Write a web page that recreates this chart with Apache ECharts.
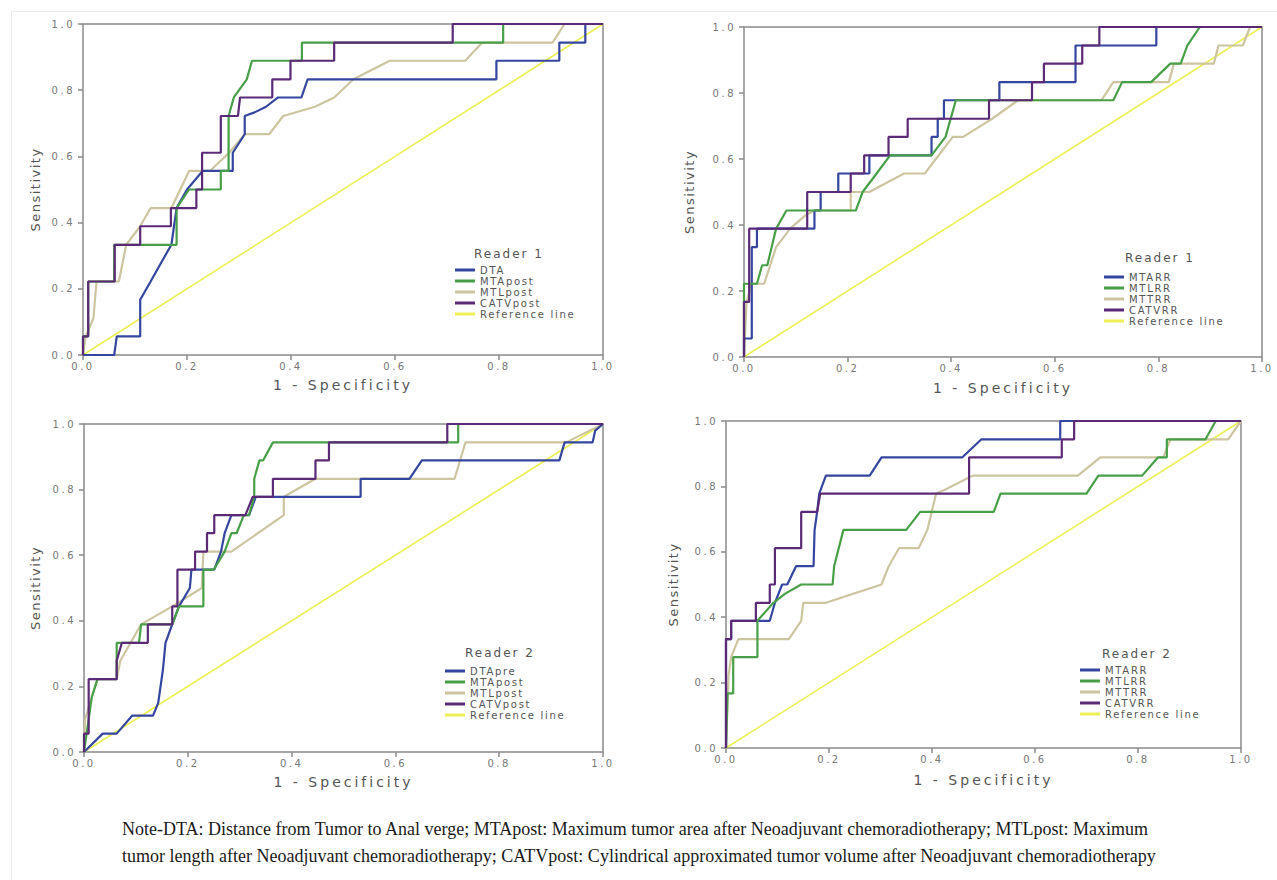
<!DOCTYPE html>
<html>
<head>
<meta charset="utf-8">
<script src="https://cdn.jsdelivr.net/npm/echarts@6/dist/echarts.min.js"></script>
<style>
html,body{margin:0;padding:0;background:#fff;}
#chart{width:1277px;height:880px;}
#chart text[style*="lsTick"]{letter-spacing:2.5px;}
#chart text[style*="lsName"]{letter-spacing:3px;}
#chart text[style*="lsSens"]{letter-spacing:1.5px;}
#chart text[style*="lsLeg"]{letter-spacing:1.7px;}
#chart text[style*="lsTitle"]{letter-spacing:2px;}
</style>
</head>
<body>
<div id="chart"></div>
<script>
// ---------- data (x = 1 - specificity, y = sensitivity) ----------
const tickValues = [0, 0.2, 0.4, 0.6, 0.8, 1.0];
const refLine = [[0,0],[1,1]];

// Reader 1, pre/post measures (top-left)
const r1_DTA = [[0,0],[0.06,0],[0.065,0.056],[0.11,0.056],[0.11,0.167],[0.13,0.222],[0.15,0.278],[0.17,0.333],[0.175,0.389],[0.18,0.444],[0.2,0.5],[0.23,0.556],[0.288,0.556],[0.288,0.611],[0.311,0.667],[0.311,0.722],[0.33,0.733],[0.352,0.75],[0.375,0.778],[0.42,0.778],[0.432,0.833],[0.795,0.833],[0.795,0.889],[0.916,0.889],[0.916,0.944],[0.966,0.944],[0.966,1],[1,1]];
const r1_MTApost = [[0,0],[0,0.056],[0.01,0.056],[0.01,0.222],[0.06,0.222],[0.06,0.333],[0.18,0.333],[0.18,0.444],[0.204,0.5],[0.265,0.5],[0.265,0.556],[0.28,0.556],[0.28,0.722],[0.29,0.778],[0.315,0.833],[0.325,0.889],[0.421,0.889],[0.421,0.944],[0.808,0.944],[0.808,1],[1,1]];
const r1_MTLpost = [[0,0],[0.005,0.056],[0.02,0.111],[0.026,0.222],[0.069,0.222],[0.083,0.333],[0.11,0.389],[0.13,0.444],[0.17,0.444],[0.204,0.556],[0.244,0.556],[0.281,0.611],[0.311,0.667],[0.358,0.667],[0.385,0.722],[0.446,0.75],[0.483,0.778],[0.52,0.833],[0.59,0.889],[0.735,0.889],[0.768,0.944],[0.903,0.944],[0.926,1],[1,1]];
const r1_CATVpost = [[0,0],[0,0.056],[0.01,0.056],[0.01,0.222],[0.061,0.222],[0.061,0.333],[0.11,0.333],[0.11,0.389],[0.169,0.389],[0.169,0.444],[0.218,0.444],[0.218,0.5],[0.229,0.5],[0.229,0.611],[0.265,0.611],[0.265,0.722],[0.298,0.722],[0.302,0.778],[0.364,0.778],[0.364,0.833],[0.399,0.833],[0.399,0.889],[0.483,0.889],[0.483,0.944],[0.711,0.944],[0.711,1],[1,1]];

// Reader 1, response ratios (top-right)
const r1_MTARR = [[0,0],[0,0.056],[0.015,0.056],[0.015,0.333],[0.025,0.333],[0.025,0.389],[0.136,0.389],[0.136,0.444],[0.148,0.444],[0.148,0.5],[0.182,0.5],[0.182,0.556],[0.242,0.556],[0.242,0.611],[0.362,0.611],[0.362,0.667],[0.374,0.667],[0.374,0.722],[0.386,0.722],[0.386,0.778],[0.493,0.778],[0.493,0.833],[0.64,0.833],[0.64,0.944],[0.796,0.944],[0.796,1],[1,1]];
const r1_MTLRR = [[0,0],[0,0.222],[0.025,0.222],[0.035,0.278],[0.045,0.278],[0.062,0.389],[0.082,0.444],[0.216,0.444],[0.229,0.5],[0.256,0.556],[0.282,0.611],[0.362,0.611],[0.389,0.667],[0.409,0.778],[0.713,0.778],[0.73,0.833],[0.786,0.833],[0.823,0.889],[0.843,0.889],[0.856,0.944],[0.88,1],[1,1]];
const r1_MTTRR = [[0,0],[0.005,0.167],[0.015,0.222],[0.039,0.222],[0.062,0.333],[0.089,0.389],[0.119,0.43],[0.136,0.444],[0.206,0.444],[0.206,0.5],[0.242,0.5],[0.309,0.556],[0.349,0.556],[0.403,0.667],[0.423,0.667],[0.479,0.722],[0.529,0.778],[0.69,0.778],[0.713,0.833],[0.82,0.833],[0.83,0.889],[0.907,0.889],[0.916,0.944],[0.963,0.944],[0.977,1],[1,1]];
const r1_CATVRR = [[0,0],[0,0.167],[0.01,0.167],[0.01,0.389],[0.122,0.389],[0.122,0.5],[0.206,0.5],[0.206,0.556],[0.232,0.556],[0.232,0.611],[0.279,0.611],[0.279,0.667],[0.316,0.667],[0.316,0.722],[0.473,0.722],[0.473,0.778],[0.556,0.778],[0.556,0.833],[0.579,0.833],[0.579,0.889],[0.653,0.889],[0.653,0.944],[0.686,0.944],[0.686,1],[1,1]];

// Reader 2, pre/post measures (bottom-left)
const r2_DTApre = [[0,0],[0.036,0.056],[0.063,0.056],[0.093,0.111],[0.133,0.111],[0.143,0.15],[0.152,0.25],[0.157,0.333],[0.17,0.389],[0.183,0.444],[0.204,0.5],[0.207,0.556],[0.251,0.556],[0.264,0.611],[0.271,0.667],[0.284,0.722],[0.318,0.722],[0.331,0.778],[0.533,0.778],[0.533,0.833],[0.627,0.833],[0.651,0.889],[0.916,0.889],[0.926,0.944],[0.98,0.944],[0.985,0.98],[1,1]];
const r2_MTApost = [[0,0],[0.005,0.056],[0.015,0.167],[0.026,0.222],[0.063,0.222],[0.063,0.333],[0.106,0.333],[0.11,0.389],[0.17,0.389],[0.183,0.444],[0.23,0.444],[0.23,0.556],[0.25,0.556],[0.271,0.611],[0.284,0.667],[0.294,0.667],[0.308,0.722],[0.318,0.722],[0.328,0.778],[0.328,0.833],[0.338,0.889],[0.345,0.889],[0.364,0.944],[0.721,0.944],[0.721,1],[1,1]];
const r2_MTLpost = [[0,0],[0.002,0.1],[0.015,0.167],[0.026,0.222],[0.063,0.222],[0.07,0.278],[0.11,0.389],[0.17,0.444],[0.227,0.5],[0.23,0.611],[0.284,0.611],[0.385,0.722],[0.385,0.778],[0.446,0.833],[0.714,0.833],[0.735,0.944],[0.929,0.944],[1,1]];
const r2_CATVpost = [[0,0],[0,0.056],[0.009,0.056],[0.009,0.222],[0.063,0.222],[0.063,0.278],[0.073,0.333],[0.123,0.333],[0.123,0.389],[0.17,0.389],[0.17,0.444],[0.18,0.444],[0.18,0.556],[0.214,0.556],[0.214,0.611],[0.237,0.611],[0.237,0.667],[0.251,0.667],[0.251,0.722],[0.311,0.722],[0.325,0.778],[0.364,0.778],[0.364,0.833],[0.446,0.833],[0.446,0.889],[0.472,0.889],[0.472,0.944],[0.70,0.944],[0.70,1],[1,1]];

// Reader 2, response ratios (bottom-right)
const r2_MTARR = [[0,0],[0,0.333],[0.01,0.333],[0.01,0.389],[0.085,0.389],[0.095,0.444],[0.109,0.5],[0.119,0.5],[0.136,0.556],[0.17,0.556],[0.172,0.667],[0.177,0.722],[0.181,0.778],[0.194,0.833],[0.279,0.833],[0.302,0.889],[0.459,0.889],[0.496,0.944],[0.649,0.944],[0.649,1],[1,1]];
const r2_MTLRR = [[0,0],[0.003,0.167],[0.014,0.167],[0.014,0.278],[0.061,0.278],[0.061,0.389],[0.092,0.444],[0.115,0.472],[0.146,0.5],[0.207,0.5],[0.21,0.556],[0.228,0.667],[0.35,0.667],[0.377,0.722],[0.52,0.722],[0.533,0.778],[0.7,0.778],[0.723,0.833],[0.808,0.833],[0.839,0.889],[0.856,0.889],[0.856,0.944],[0.931,0.944],[0.951,1],[1,1]];
const r2_MTTRR = [[0,0],[0.005,0.222],[0.01,0.278],[0.024,0.333],[0.122,0.333],[0.146,0.389],[0.15,0.444],[0.194,0.444],[0.302,0.5],[0.316,0.556],[0.336,0.611],[0.374,0.611],[0.391,0.667],[0.408,0.778],[0.425,0.79],[0.479,0.833],[0.683,0.833],[0.727,0.889],[0.849,0.889],[0.863,0.944],[0.975,0.944],[1,1]];
const r2_CATVRR = [[0,0],[0,0.333],[0.01,0.333],[0.01,0.389],[0.058,0.389],[0.058,0.444],[0.085,0.444],[0.085,0.5],[0.095,0.5],[0.095,0.611],[0.146,0.611],[0.146,0.722],[0.177,0.722],[0.183,0.778],[0.472,0.778],[0.472,0.889],[0.652,0.889],[0.652,0.944],[0.676,0.944],[0.676,1],[1,1]];

const noteLines = [
  'Note-DTA: Distance from Tumor to Anal verge; MTApost: Maximum tumor area after Neoadjuvant chemoradiotherapy; MTLpost: Maximum',
  'tumor length after Neoadjuvant chemoradiotherapy; CATVpost: Cylindrical approximated tumor volume after Neoadjuvant chemoradiotherapy'
];

// ---------- styles ----------
const COL = { blue:'#3546a0', green:'#47a047', tan:'#cdc5a0', purple:'#5b2a77', yellow:'#ecef55' };
const Z = { blue:3, green:4, tan:2, purple:5, yellow:1 };

const panels = [
  { grid:{left:83, top:24, width:520, height:331}, yGap:41, xGap:23, reader:'Reader 1',
    title:[474,248], legend:[455,264.5],
    lines:[['DTA', r1_DTA, 'blue'], ['MTApost', r1_MTApost, 'green'], ['MTLpost', r1_MTLpost, 'tan'], ['CATVpost', r1_CATVpost, 'purple']] },
  { grid:{left:744, top:27, width:518, height:330}, yGap:48, xGap:24, reader:'Reader 1',
    title:[1125,252], legend:[1104,271.5],
    lines:[['MTARR', r1_MTARR, 'blue'], ['MTLRR', r1_MTLRR, 'green'], ['MTTRR', r1_MTTRR, 'tan'], ['CATVRR', r1_CATVRR, 'purple']] },
  { grid:{left:84, top:424, width:519, height:328}, yGap:42, xGap:23, reader:'Reader 2',
    title:[465,647], legend:[445,665.5],
    lines:[['DTApre', r2_DTApre, 'blue'], ['MTApost', r2_MTApost, 'green'], ['MTLpost', r2_MTLpost, 'tan'], ['CATVpost', r2_CATVpost, 'purple']] },
  { grid:{left:726, top:421, width:515, height:327}, yGap:46, xGap:25, reader:'Reader 2',
    title:[1102,648], legend:[1080,664.5],
    lines:[['MTARR', r2_MTARR, 'blue'], ['MTLRR', r2_MTLRR, 'green'], ['MTTRR', r2_MTTRR, 'tan'], ['CATVRR', r2_CATVRR, 'purple']] }
];

const AX = '#8a8a8a';
const fmt = v => v.toFixed(1);

const option = {
  animation: false,
  backgroundColor: '#ffffff',
  title: [], legend: [], grid: [], xAxis: [], yAxis: [], series: [],
  graphic: []
};

panels.forEach((p, i) => {
  option.grid.push(Object.assign({ show:true, borderColor:AX, borderWidth:1.5, backgroundColor:'transparent', containLabel:false }, p.grid));
  const common = {
    type:'value', min:0, max:1, interval:0.2, gridIndex:i,
    axisLine:{show:false},
    axisTick:{show:true, inside:false, length:5, lineStyle:{color:AX, width:1.5}},
    splitLine:{show:false},
    nameLocation:'middle'
  };
  option.xAxis.push(Object.assign({}, common, {
    name:'1 - Specificity', nameGap:p.xGap,
    nameTextStyle:{fontFamily:'DejaVu Sans, lsName', fontSize:14, color:'#555'},
    axisLabel:{formatter:fmt, margin:6, fontFamily:'DejaVu Sans, lsTick', fontSize:10, color:'#777'}
  }));
  option.yAxis.push(Object.assign({}, common, {
    name:'Sensitivity', nameGap:p.yGap,
    nameTextStyle:{fontFamily:'DejaVu Sans, lsSens', fontSize:13, color:'#555'},
    axisLabel:{formatter:fmt, margin:8, fontFamily:'DejaVu Sans, lsTick', fontSize:10, color:'#777'}
  }));
  option.title.push({
    text:p.reader, left:p.title[0], top:p.title[1], padding:0,
    textStyle:{fontFamily:'DejaVu Sans, lsTitle', fontSize:12, fontWeight:'normal', color:'#555'}
  });
  const names = [];
  p.lines.forEach(([name, data, c]) => {
    names.push(name);
    option.series.push({
      type:'line', name, data, xAxisIndex:i, yAxisIndex:i,
      showSymbol:false, symbol:'none', z:Z[c], silent:true,
      color:COL[c], lineStyle:{color:COL[c], width:2.2}
    });
  });
  names.push('Reference line');
  option.series.push({
    type:'line', name:'Reference line', data:refLine, xAxisIndex:i, yAxisIndex:i,
    showSymbol:false, symbol:'none', z:Z.yellow, silent:true,
    color:COL.yellow, lineStyle:{color:COL.yellow, width:1.6}
  });
  option.legend.push({
    orient:'vertical', left:p.legend[0], top:p.legend[1], padding:0,
    itemWidth:20, itemHeight:3, itemGap:0, icon:'rect', selectedMode:false,
    textStyle:{fontFamily:'DejaVu Sans, lsLeg', fontSize:10, color:'#555', lineHeight:11},
    data:names
  });
});

// faint frame of the original figure
option.graphic.push({ type:'rect', left:9, top:9, silent:true,
  shape:{x:0, y:0, width:1300, height:900}, style:{fill:'none', stroke:'#ececec', lineWidth:1} });
noteLines.forEach((t, k) => {
  option.graphic.push({ type:'text', left:122, top:820 + k*27, silent:true,
    style:{text:t, fontFamily:'Liberation Serif', fontSize:18, fill:'#1a1a1a'} });
});

const chart = echarts.init(document.getElementById('chart'), null, {renderer:'svg'});
chart.setOption(option);
</script>
</body>
</html>
